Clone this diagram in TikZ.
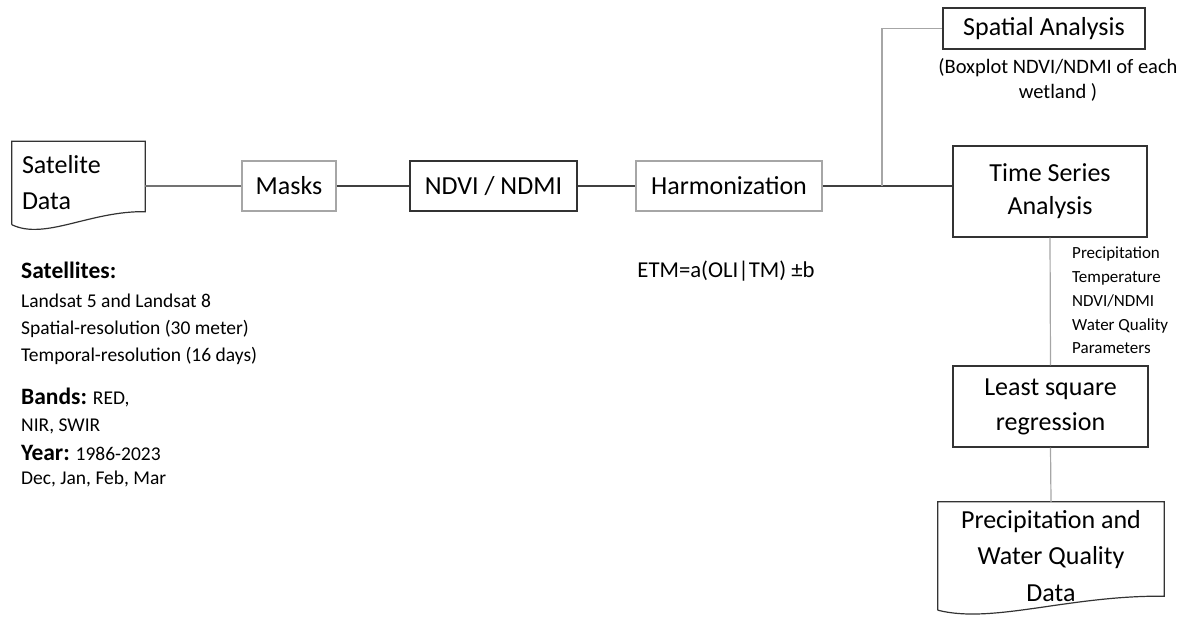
\documentclass[tikz,border=0pt]{standalone}
\usepackage{fontspec}
\setmainfont{Carlito}
\usetikzlibrary{positioning}

\begin{document}
\begin{tikzpicture}[
  x=1pt,y=-1pt,
  box/.style={draw=black!80,line width=1.2pt,inner sep=0pt,align=center,
    font=\fontsize{26}{34}\selectfont},
  lightbox/.style={box,draw=black!35},
  docbox/.style={inner sep=0pt,font=\fontsize{26}{36}\selectfont},
  link/.style={line width=1.2pt,draw=black!75},
  faint/.style={line width=1.2pt,draw=black!35},
  note/.style={inner sep=0pt,align=left,font=\fontsize{19.5}{27}\selectfont}
]
  \useasboundingbox (0,0) rectangle (1183,617);

  % input document
  \node[docbox,minimum width=133pt,minimum height=83pt,text width=113pt,
    align=left] (sat) at (78.5,183) {Satelite\\Data};
  \draw[box] (sat.south west) -- (sat.north west) -- (sat.north east)
    -- ([yshift=13pt]sat.south east) .. controls +(-55,-1) and +(33,16) .. (sat.south west);

  % processing chain
  \node[lightbox,minimum width=94pt,minimum height=50pt] (masks) at (289,186) {Masks};
  \node[box,minimum width=167pt,minimum height=50pt] (ndvi) at (493.5,186) {NDVI / NDMI};
  \node[lightbox,minimum width=186pt,minimum height=50pt] (harm) at (729,186) {Harmonization};
  \node[box,minimum width=202pt,minimum height=41pt] (spatial) at (1044,28.5) {Spatial Analysis};
  \node[box,minimum width=194pt,minimum height=91pt,font=\fontsize{26}{33}\selectfont]
    (tseries) at (1050,191.5) {Time Series\\Analysis};
  \node[box,minimum width=195pt,minimum height=81pt,font=\fontsize{26}{35}\selectfont]
    (lsq) at (1050.5,406.5) {Least square\\regression};

  % output document
  \node[docbox,minimum width=226pt,minimum height=108pt,align=center,
    font=\fontsize{26}{36.5}\selectfont] (pdata) at (1051,556)
    {Precipitation and\\Water Quality\\Data};
  \draw[box] (pdata.south west) -- (pdata.north west) -- (pdata.north east)
    -- ([yshift=14pt]pdata.south east) .. controls +(-95,-1) and +(55,14) .. (pdata.south west);

  % notes
  \node[note,anchor=north west] (satinfo) at (21,262) {%
    {\fontsize{23.5}{27}\selectfont\bfseries Satellites:}\\[2pt]
    Landsat 5 and Landsat 8\\
    Spatial-resolution (30 meter)\\
    Temporal-resolution (16 days)\\[16pt]
    {\fontsize{23.5}{27}\selectfont\bfseries Bands:} RED,\\
    NIR, SWIR\\[2pt]
    {\fontsize{23.5}{27}\selectfont\bfseries Year:} 1986-2023\\[-3pt]
    Dec, Jan, Feb, Mar};
  \node[note,align=center,font=\fontsize{22.7}{28}\selectfont] (etm) at (726,271) {ETM=a(OLI|TM) ±b};
  \node[note,align=center,font=\fontsize{20.5}{25}\selectfont] (boxplot) at (1058,80)
    {(Boxplot NDVI/NDMI of each\\wetland )};
  \node[note,anchor=north west,font=\fontsize{17}{23.7}\selectfont] (vars) at (1072,247)
    {Precipitation\\Temperature\\NDVI/NDMI\\Water Quality\\Parameters};

  % connectors
  \coordinate (fork) at (882,186);
  \draw[link,draw=black!55] (masks.west -| sat.east) -- (masks.west);
  \draw[link] (masks) -- (ndvi);
  \draw[link] (ndvi) -- (harm);
  \draw[link] (harm.east) -- (harm.east -| tseries.west);
  \draw[faint] (fork) |- (spatial.west);
  \draw[faint] (tseries.south) -- (lsq.north);
  \draw[faint] (lsq.south) -- (pdata.north);
\end{tikzpicture}
\end{document}
